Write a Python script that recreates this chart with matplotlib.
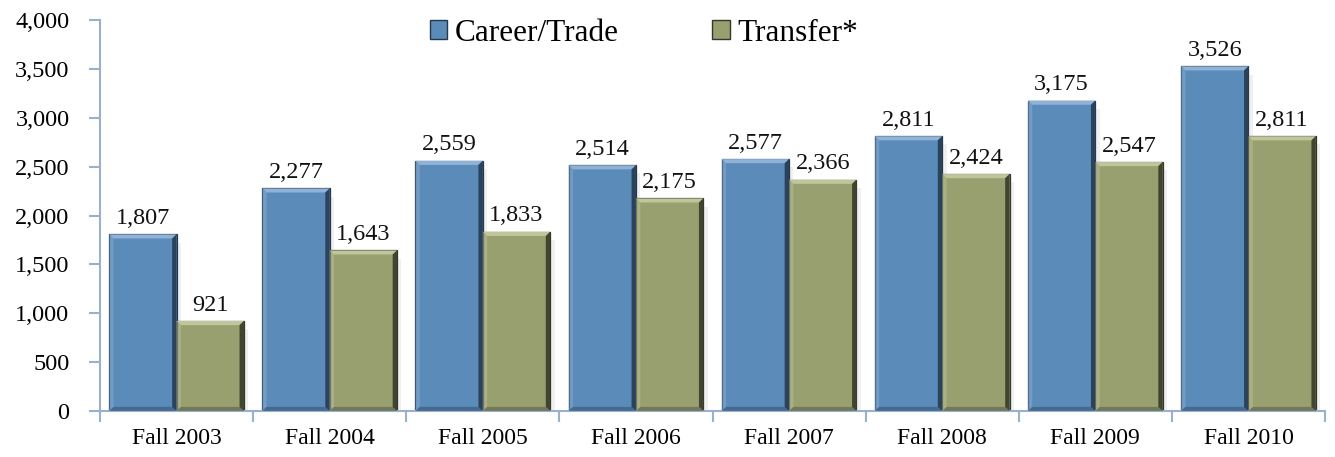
import matplotlib
matplotlib.use("Agg")
import matplotlib.pyplot as plt
import numpy as np
from matplotlib.patches import Polygon, Patch

categories = ["Fall 2003", "Fall 2004", "Fall 2005", "Fall 2006", "Fall 2007", "Fall 2008", "Fall 2009", "Fall 2010"]
career = [1807, 2277, 2559, 2514, 2577, 2811, 3175, 3526]
transfer = [921, 1643, 1833, 2175, 2366, 2424, 2547, 2811]
yticks = [0, 500, 1000, 1500, 2000, 2500, 3000, 3500, 4000]

plt.rcParams['font.family'] = ['Liberation Serif', 'DejaVu Serif']

fig = plt.figure(figsize=(13.35, 4.57), dpi=100)
ax = fig.add_axes([100/1335, 1-411/457, 1225/1335, 391/457])

blue = "#5b8bb8"
green = "#98a070"
axcol = "#9ab0cc"

x = np.arange(len(categories))
w = 0.44
b1 = ax.bar(x - w/2, career, w, color=blue, edgecolor="#24384d", linewidth=0.9, zorder=2)
b2 = ax.bar(x + w/2, transfer, w, color=green, edgecolor="#33372a", linewidth=0.9, zorder=2)

def bevel(bars, light, dark, darker):
    for r in bars:
        x0, y0 = r.get_x(), r.get_y()
        x1, y1 = x0 + r.get_width(), y0 + r.get_height()
        dx = r.get_width() * 0.065
        dy = 42
        # shadow
        ax.add_patch(Polygon([[x1, y1 - 2*dy], [x1 + dx*1.0, y1 - 2*dy], [x1 + dx*1.0, y0], [x1, y0]],
                             closed=True, facecolor='#e3e3e3', edgecolor='none', alpha=0.5, zorder=1))
        # top highlight
        ax.add_patch(Polygon([[x0, y1], [x1, y1], [x1 - dx, y1 - dy], [x0 + dx, y1 - dy]],
                             closed=True, facecolor=light, edgecolor='none', zorder=3))
        # left light
        ax.add_patch(Polygon([[x0, y1], [x0 + dx, y1 - dy], [x0 + dx, y0 + dy], [x0, y0]],
                             closed=True, facecolor=light, edgecolor='none', alpha=0.45, zorder=3))
        # bottom dark
        ax.add_patch(Polygon([[x0, y0], [x0 + dx, y0 + dy], [x1 - dx, y0 + dy], [x1, y0]],
                             closed=True, facecolor=dark, edgecolor='none', alpha=0.8, zorder=3))
        # right shade
        ax.add_patch(Polygon([[x1, y1], [x1, y0], [x1 - dx, y0 + dy], [x1 - dx, y1 - dy]],
                             closed=True, facecolor=darker, edgecolor='none', zorder=3))

bevel(b1, "#8fb2d6", "#3f6286", "#2a425c")
bevel(b2, "#c0c59c", "#6a7050", "#404530")

for xi, v in zip(x - w/2, career):
    ax.text(xi, v + 55, f"{v:,}", ha='center', va='bottom', fontsize=17.5, color='#111111')
for xi, v in zip(x + w/2, transfer):
    ax.text(xi, v + 55, f"{v:,}", ha='center', va='bottom', fontsize=17.5, color='#111111')

ax.set_xlim(-0.5, len(categories) - 0.5)
ax.set_ylim(0, 4000)
ax.set_yticks(yticks)
ax.set_yticklabels([f"{t:,}" for t in yticks], fontsize=17.5)
ax.set_xticks(x)
ax.set_xticks(np.arange(-0.5, len(categories)), minor=True)
ax.set_xticklabels(categories, fontsize=17)
ax.tick_params(axis='x', which='major', length=0, pad=12)
ax.tick_params(axis='x', which='minor', length=8, color=axcol, width=1.5)
ax.tick_params(axis='y', length=8, color=axcol, width=1.5, pad=14)

for s in ['top', 'right']:
    ax.spines[s].set_visible(False)
for s in ['left', 'bottom']:
    ax.spines[s].set_color(axcol)
    ax.spines[s].set_linewidth(1.5)

handles = [Patch(facecolor=blue, edgecolor="#24384d"), Patch(facecolor=green, edgecolor="#33372a")]
ax.legend(handles, ["Career/Trade", "Transfer*"], loc='upper center', bbox_to_anchor=(0.444, 1.075),
          ncol=2, frameon=False, fontsize=22.5, handlelength=0.55, handleheight=0.55,
          handletextpad=0.25, columnspacing=3.0)

fig.savefig("out.png", dpi=100)
